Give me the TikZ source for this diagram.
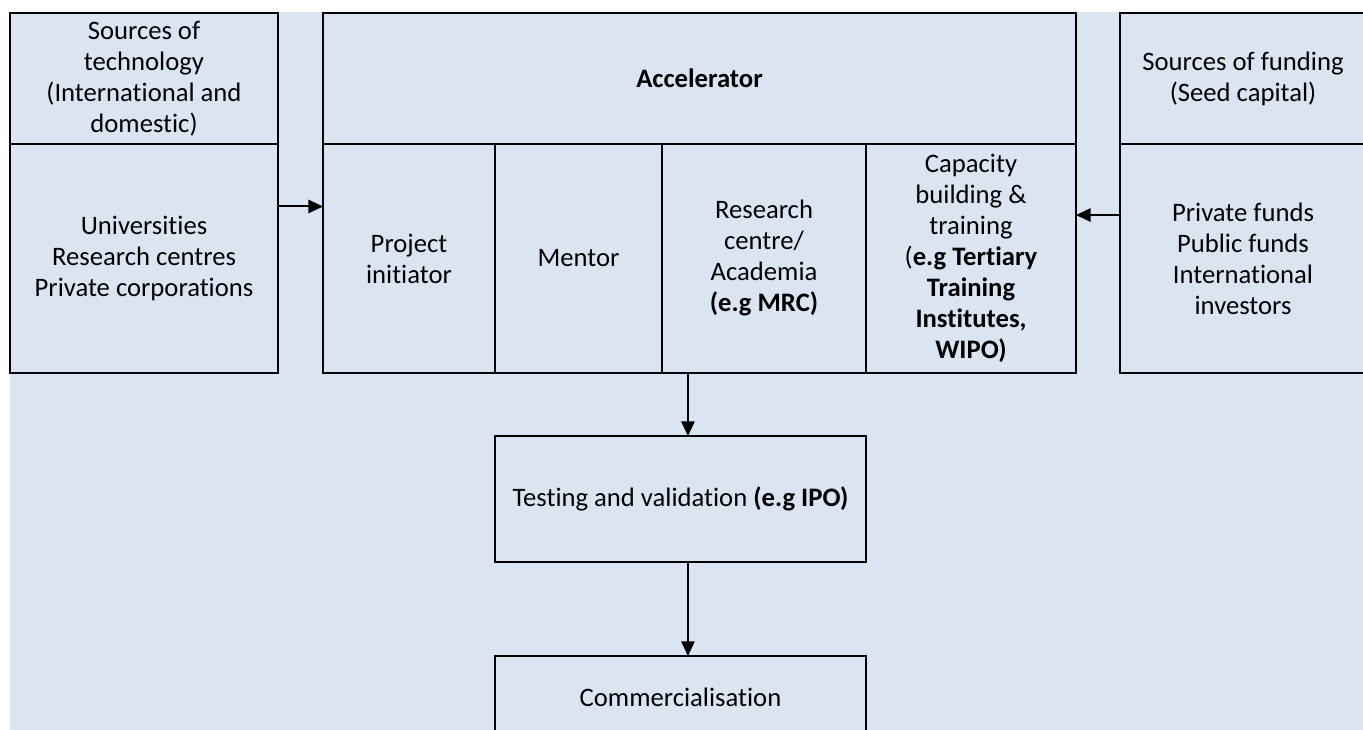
\documentclass[tikz,border=0pt]{standalone}
\usepackage{fontspec}
\setmainfont[Ligatures=NoCommon]{Carlito}
\usetikzlibrary{positioning, calc}
\usetikzlibrary{arrows, arrows.meta}
\tikzset{>={Triangle[length=11pt,width=10pt]}}
\definecolor{mybg}{RGB}{219,229,241}
\tikzset{
  box/.style={draw, line width=1.5pt, inner sep=2pt, outer sep=0pt, align=center,
    font=\fontsize{20}{23.25}\selectfont},
  link/.style={->, line width=1.5pt}
}

\begin{document}
\begin{tikzpicture}[x=0.75pt, y=-0.75pt]
  \useasboundingbox (0,0) rectangle (1363,730);
  \fill[mybg] (10,12) rectangle (1363,730);

  % sources of technology
  \node[box, minimum width=201pt, minimum height=98.25pt] (tech) at (144,78.5) {Sources of\\technology\\(International and\\domestic)};
  \node[box, minimum width=201pt, minimum height=171.75pt, below=0pt of tech] (unis) {Universities\\Research centres\\Private corporations};

  % accelerator
  \node[box, minimum width=564.75pt, minimum height=98.25pt] (accel) at (699.5,78.5) {\textbf{Accelerator}};
  \node[box, minimum width=129pt, minimum height=171.75pt, below right=0pt of accel.south west] (init) {Project\\initiator};
  \node[box, minimum width=125.25pt, minimum height=171.75pt, right=0pt of init] (mentor) {Mentor};
  \node[box, minimum width=153pt, minimum height=171.75pt, right=0pt of mentor] (research) {Research\\centre/\\Academia\\\textbf{(e.g MRC)}};
  \node[box, minimum width=157.5pt, minimum height=171.75pt, right=0pt of research] (capacity) {Capacity\\building \&\\training\\(\textbf{e.g Tertiary}\\\textbf{Training}\\\textbf{Institutes,}\\\textbf{WIPO)}};

  % sources of funding
  \node[box, minimum width=184.5pt, minimum height=98.25pt] (fund) at (1243,78.5) {Sources of funding\\(Seed capital)};
  \node[box, minimum width=184.5pt, minimum height=171.75pt, below=0pt of fund] (funds) {Private funds\\Public funds\\International\\investors};

  % outcome
  \node[box, minimum width=278.25pt, minimum height=94.5pt] (testing) at (680.5,499) {Testing and validation \textbf{(e.g IPO)}};
  \node[box, minimum width=278.25pt, minimum height=61.5pt] (comm) at (680.5,697) {Commercialisation};

  \draw[link] ([yshift=39pt]unis.east) -- ([yshift=39pt]init.west);
  \draw[link] ([yshift=32.6pt]funds.west) -- ([yshift=32.6pt]capacity.east);
  \draw[link] ([xshift=5.6pt]testing.north |- research.south) -- ([xshift=5.6pt]testing.north);
  \draw[link] ([xshift=5.6pt]testing.south) -- ([xshift=5.6pt]comm.north);
\end{tikzpicture}
\end{document}
